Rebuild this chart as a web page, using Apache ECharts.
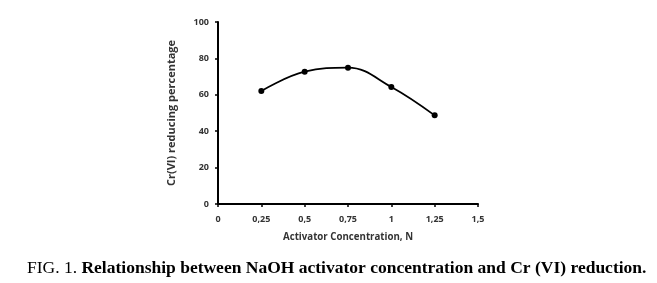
<!DOCTYPE html>
<html><head><meta charset="utf-8">
<script src="https://cdn.jsdelivr.net/npm/echarts@6/dist/echarts.min.js"></script>
<style>html,body{margin:0;padding:0;background:#fff}#c{width:657px;height:283px}</style>
</head><body><div id="c"></div>
<script>
const concentrations = [0.25, 0.5, 0.75, 1, 1.25];
const reducingPct = [62.1, 72.7, 74.9, 64.3, 48.7];
const xTitle = 'Activator Concentration, N';
const yTitle = 'Cr(VI) reducing percentage';
const captionLabel = 'FIG. 1. ';
const captionText = 'Relationship between NaOH activator concentration and Cr (VI) reduction.';

const chart = echarts.init(document.getElementById('c'), null, {renderer: 'canvas'});
const axisFont = {fontFamily: 'Open Sans', fontWeight: 'bold', fontSize: 9, color: '#333'};
chart.setOption({
  animation: false,
  backgroundColor: '#fff',
  title: {
    text: '{a|' + captionLabel + '}{b|' + captionText + '}',
    left: 22, top: 254,
    textStyle: {
      rich: {
        a: {fontFamily: 'Liberation Serif', fontSize: 17.5, fontWeight: 'normal', color: '#000'},
        b: {fontFamily: 'Liberation Serif', fontSize: 17.5, fontWeight: 'bold', color: '#000'}
      }
    }
  },
  grid: {left: 218, right: 179, top: 22, bottom: 79, containLabel: false},
  xAxis: {
    type: 'value', min: 0, max: 1.5, interval: 0.25,
    name: xTitle, nameLocation: 'middle', nameGap: 28,
    nameTextStyle: {fontFamily: 'Open Sans', fontWeight: 'bold', fontSize: 9.7, color: '#333'},
    axisLine: {show: true, lineStyle: {color: '#000', width: 2}},
    axisTick: {show: true, length: 3, lineStyle: {color: '#000', width: 1.5}},
    splitLine: {show: false},
    axisLabel: Object.assign({margin: 11, formatter: v => String(v).replace('.', ',')}, axisFont)
  },
  yAxis: {
    type: 'value', min: 0, max: 100, interval: 20,
    name: yTitle, nameLocation: 'middle', nameGap: 41, nameRotate: 90,
    nameTextStyle: {fontFamily: 'Open Sans', fontWeight: 'bold', fontSize: 11, color: '#333'},
    axisLine: {show: true, lineStyle: {color: '#000', width: 2}},
    axisTick: {show: true, length: 3, lineStyle: {color: '#000', width: 1.5}},
    splitLine: {show: false},
    axisLabel: Object.assign({margin: 9}, axisFont)
  },
  series: [{
    type: 'line',
    data: concentrations.map((x, i) => [x, reducingPct[i]]),
    smooth: 0.4,
    symbol: 'circle', symbolSize: 6,
    itemStyle: {color: '#000'},
    lineStyle: {color: '#000', width: 1.8}
  }]
});
</script></body></html>
